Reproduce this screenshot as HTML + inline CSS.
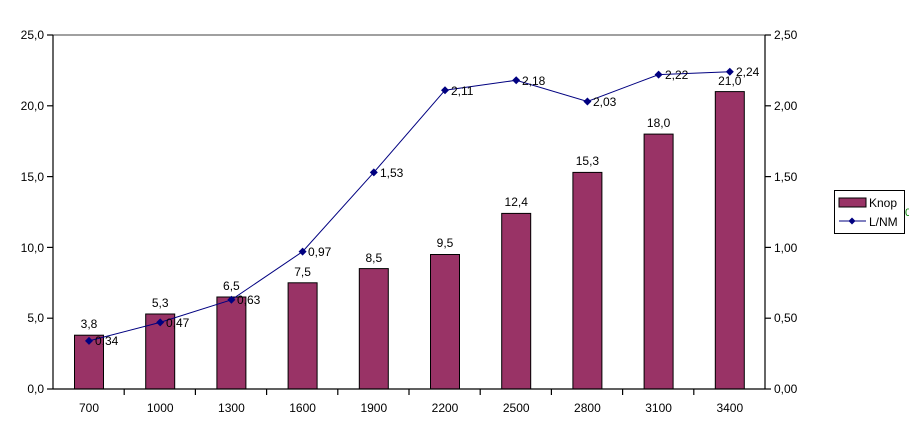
<!DOCTYPE html>
<html><head><meta charset="utf-8"><style>body{margin:0;background:#fff}svg{display:block;font-family:"Liberation Sans",Arial,sans-serif;font-size:12px}</style></head><body>
<svg width="909" height="423" xmlns="http://www.w3.org/2000/svg">
<line x1="53" y1="35" x2="765" y2="35" stroke="#a0a0a0" stroke-width="2"/>
<g id="bars" fill="#993366" stroke="#000" stroke-width="1">
<rect x="74.5" y="335.2" width="29" height="53.8"/>
<rect x="145.7" y="314" width="29" height="75"/>
<rect x="216.9" y="297" width="29" height="92"/>
<rect x="288.1" y="282.8" width="29" height="106.2"/>
<rect x="359.3" y="268.6" width="29" height="120.4"/>
<rect x="430.5" y="254.5" width="29" height="134.5"/>
<rect x="501.7" y="213.4" width="29" height="175.6"/>
<rect x="572.9" y="172.4" width="29" height="216.6"/>
<rect x="644.1" y="134.1" width="29" height="254.9"/>
<rect x="715.3" y="91.6" width="29" height="297.4"/>
</g>
<g stroke="#000" stroke-width="1.2">
<line x1="53" y1="35" x2="53" y2="389"/><line x1="765" y1="35" x2="765" y2="389"/>
<line x1="53" y1="389" x2="765" y2="389"/>
<line x1="47" y1="35" x2="53" y2="35"/><line x1="47" y1="105.8" x2="53" y2="105.8"/><line x1="47" y1="176.6" x2="53" y2="176.6"/><line x1="47" y1="247.4" x2="53" y2="247.4"/><line x1="47" y1="318.2" x2="53" y2="318.2"/><line x1="47" y1="389" x2="53" y2="389"/>
<line x1="765" y1="35" x2="771" y2="35"/><line x1="765" y1="105.8" x2="771" y2="105.8"/><line x1="765" y1="176.6" x2="771" y2="176.6"/><line x1="765" y1="247.4" x2="771" y2="247.4"/><line x1="765" y1="318.2" x2="771" y2="318.2"/><line x1="765" y1="389" x2="771" y2="389"/>
<line x1="124.2" y1="389" x2="124.2" y2="395"/><line x1="195.4" y1="389" x2="195.4" y2="395"/><line x1="266.6" y1="389" x2="266.6" y2="395"/><line x1="337.8" y1="389" x2="337.8" y2="395"/><line x1="409" y1="389" x2="409" y2="395"/><line x1="480.2" y1="389" x2="480.2" y2="395"/><line x1="551.4" y1="389" x2="551.4" y2="395"/><line x1="622.6" y1="389" x2="622.6" y2="395"/><line x1="693.8" y1="389" x2="693.8" y2="395"/>
</g>
<g text-anchor="end" fill="#000">
<text x="44" y="39">25,0</text><text x="44" y="110">20,0</text><text x="44" y="181">15,0</text><text x="44" y="252">10,0</text><text x="44" y="322">5,0</text><text x="44" y="393">0,0</text>
</g>
<g fill="#000">
<text x="774" y="39">2,50</text><text x="774" y="110">2,00</text><text x="774" y="181">1,50</text><text x="774" y="252">1,00</text><text x="774" y="322">0,50</text><text x="774" y="393">0,00</text>
</g>
<g text-anchor="middle" fill="#000">
<text x="89" y="412">700</text><text x="160.2" y="412">1000</text><text x="231.4" y="412">1300</text><text x="302.6" y="412">1600</text><text x="373.8" y="412">1900</text><text x="445" y="412">2200</text><text x="516.2" y="412">2500</text><text x="587.4" y="412">2800</text><text x="658.6" y="412">3100</text><text x="729.8" y="412">3400</text>
<text x="89" y="328">3,8</text><text x="160.2" y="307">5,3</text><text x="231.4" y="290">6,5</text><text x="302.6" y="276">7,5</text><text x="373.8" y="262">8,5</text><text x="445" y="247">9,5</text><text x="516.2" y="206">12,4</text><text x="587.4" y="165">15,3</text><text x="658.6" y="127">18,0</text><text x="729.8" y="85">21,0</text>
</g>
<polyline fill="none" stroke="#000080" stroke-width="1" points="89,340.9 160.2,322.4 231.4,299.8 302.6,251.6 373.8,172.4 445,90.2 516.2,80.3 587.4,101.5 658.6,74.6 729.8,71.8"/>
<g fill="#000080">
<path d="M89,336.9l4,4-4,4-4-4z"/><path d="M160.2,318.4l4,4-4,4-4-4z"/><path d="M231.4,295.8l4,4-4,4-4-4z"/><path d="M302.6,247.6l4,4-4,4-4-4z"/><path d="M373.8,168.4l4,4-4,4-4-4z"/><path d="M445,86.2l4,4-4,4-4-4z"/><path d="M516.2,76.3l4,4-4,4-4-4z"/><path d="M587.4,97.5l4,4-4,4-4-4z"/><path d="M658.6,70.6l4,4-4,4-4-4z"/><path d="M729.8,67.8l4,4-4,4-4-4z"/>
</g>
<g fill="#000">
<text x="95" y="345">0,34</text><text x="166" y="327">0,47</text><text x="237" y="304">0,63</text><text x="308" y="256">0,97</text><text x="380" y="177">1,53</text><text x="451" y="95">2,11</text><text x="522" y="85">2,18</text><text x="593" y="106">2,03</text><text x="665" y="79">2,22</text><text x="736" y="76">2,24</text>
</g>
<rect x="834.5" y="190.5" width="70" height="43" fill="#fff" stroke="#000"/>
<rect x="839" y="198" width="27" height="9" fill="#993366" stroke="#000"/>
<text x="869" y="207">Knop</text>
<line x1="839" y1="221" x2="866" y2="221" stroke="#000080"/>
<path d="M852,217.5l3.5,3.5-3.5,3.5-3.5-3.5z" fill="#000080"/>
<text x="869" y="226">L/NM</text>
<text x="905" y="216" fill="#008000" font-size="11">0</text>
</svg>
</body></html>
